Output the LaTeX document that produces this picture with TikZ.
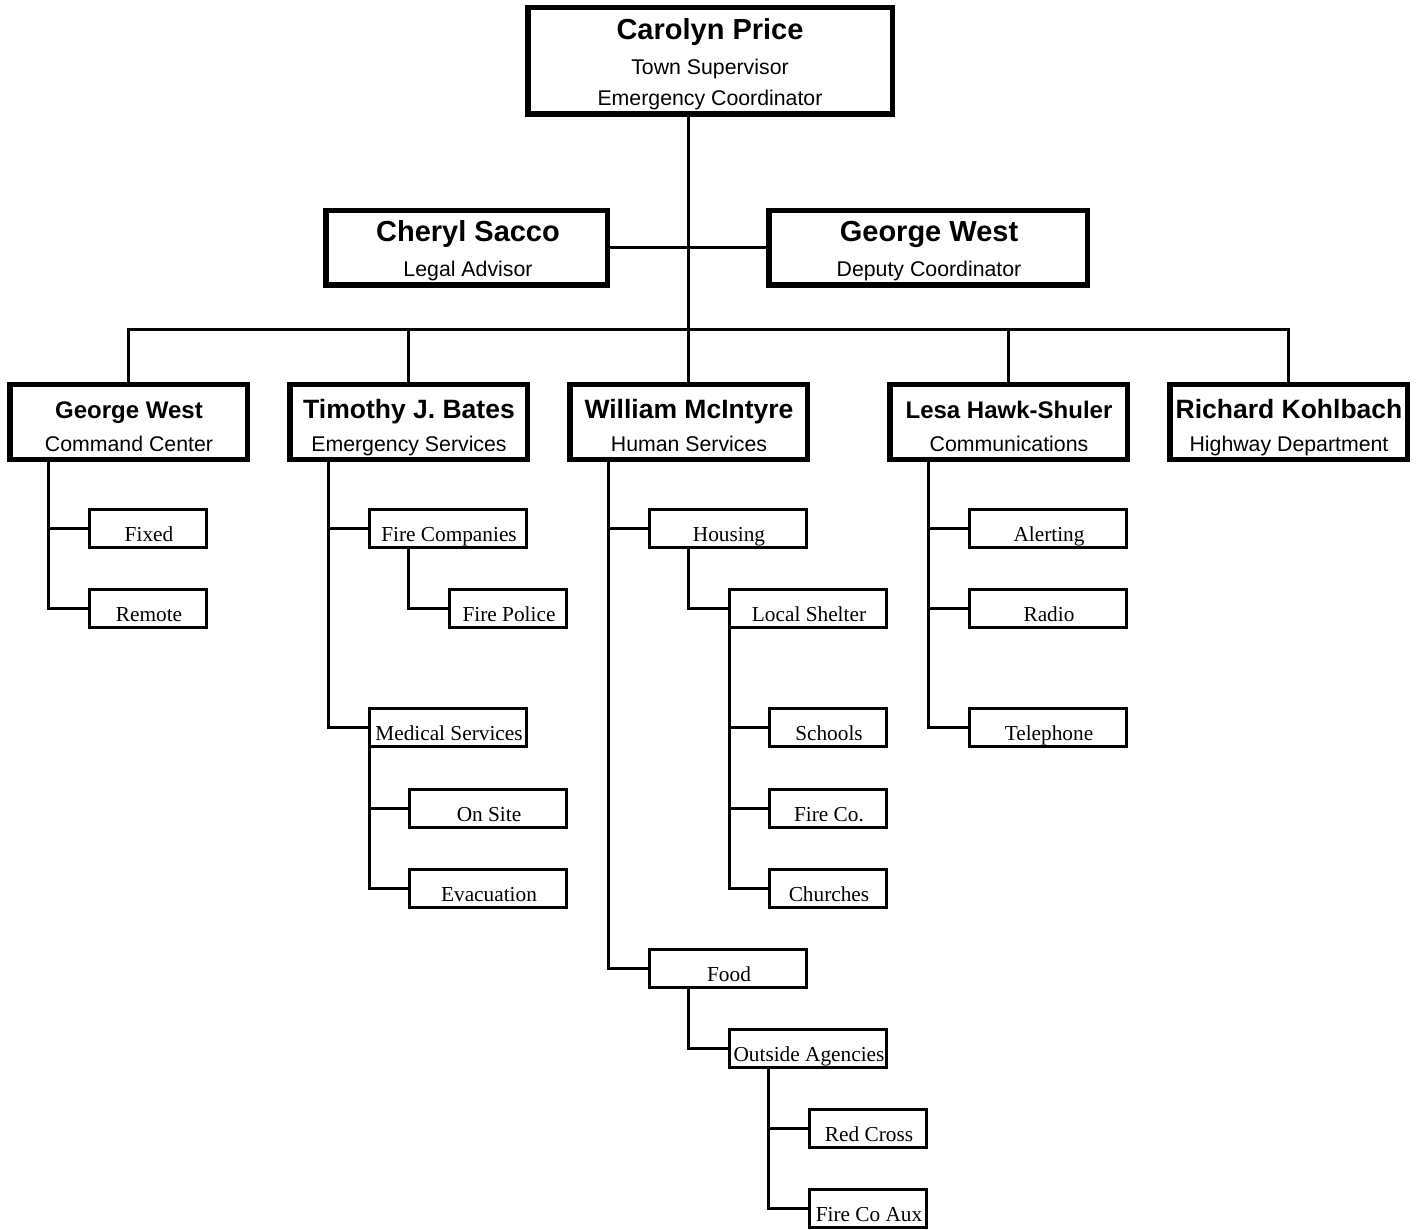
\documentclass[tikz,border=0pt]{standalone}
\usepackage{fontspec}
\setmainfont{Liberation Serif}
\setsansfont{Liberation Sans}
\tikzset{
  big/.style={draw, line width=5.5pt, inner sep=0pt, outer sep=0pt, rectangle},
  small/.style={draw, line width=3pt, inner sep=0pt, outer sep=0pt, rectangle},
  conn/.style={line width=3pt, line join=miter},
  nmA/.style={anchor=base, inner sep=0pt, font=\sffamily\bfseries\fontsize{29}{34}\selectfont},
  nmB/.style={anchor=base, inner sep=0pt, font=\sffamily\bfseries\fontsize{26.5}{31}\selectfont},
  nmC/.style={anchor=base, inner sep=0pt, font=\sffamily\bfseries\fontsize{24}{29}\selectfont},
  ttl/.style={anchor=base, inner sep=0pt, font=\sffamily\fontsize{21.3}{26}\selectfont},
  sml/.style={anchor=base, inner sep=0pt, font=\rmfamily\fontsize{21.3}{26}\selectfont},
}
% name, x1, y1, x2, y2 (outer extents, pixels)
\newcommand\bigbox[5]{\node[big, minimum width={#4-#2-5.5}, minimum height={#5-#3-5.5}] (#1) at ({(#2+#4)/2},{(#3+#5)/2}) {};}
\newcommand\smbox[6]{\node[small, minimum width={#4-#2-3}, minimum height={#5-#3-3}] (#1) at ({(#2+#4)/2},{(#3+#5)/2}) {};
  \node[sml] (#1-t) at ({(#2+#4)/2+1},{#5-8}) {#6};}
\begin{document}
\begin{tikzpicture}[x=1pt, y=-1pt]
\useasboundingbox (0,0) rectangle (1416,1230);

% top levels
\bigbox{cp}{525}{5}{895}{117}
\node[nmA] (cp-a) at (710,39.5) {Carolyn Price};
\node[ttl] (cp-b) at (710,74.5) {Town Supervisor};
\node[ttl] (cp-c) at (710,106) {Emergency Coordinator};

\bigbox{cs}{323}{208}{610}{288}
\node[nmA] (cs-a) at (468,242) {Cheryl Sacco};
\node[ttl] (cs-b) at (468,276.5) {Legal Advisor};

\bigbox{gwd}{766}{208}{1090}{288}
\node[nmA] (gwd-a) at (929,242) {George West};
\node[ttl] (gwd-b) at (929,276.5) {Deputy Coordinator};

% level 2
\bigbox{gw}{7}{382}{250}{462}
\node[nmC] (gw-a) at (129,418) {George West};
\node[ttl] (gw-b) at (129,451) {Command Center};

\bigbox{tb}{287}{382}{530}{462}
\node[nmB] (tb-a) at (409,418) {Timothy J. Bates};
\node[ttl] (tb-b) at (409,451) {Emergency Services};

\bigbox{wm}{567}{382}{810}{462}
\node[nmB] (wm-a) at (689,418) {William McIntyre};
\node[ttl] (wm-b) at (689,451) {Human Services};

\bigbox{lh}{887}{382}{1130}{462}
\node[nmC] (lh-a) at (1009,418) {Lesa Hawk-Shuler};
\node[ttl] (lh-b) at (1009,451) {Communications};

\bigbox{rk}{1167}{382}{1410}{462}
\node[nmB] (rk-a) at (1289,418) {Richard Kohlbach};
\node[ttl] (rk-b) at (1289,451) {Highway Department};

% small boxes
\smbox{fixed}{88}{508}{208}{549}{Fixed}
\smbox{remote}{88}{588}{208}{629}{Remote}

\smbox{firecomp}{368}{508}{528}{549}{Fire Companies}
\smbox{firepol}{448}{588}{568}{629}{Fire Police}
\smbox{medical}{368}{707}{528}{748}{Medical Services}
\smbox{onsite}{408}{788}{568}{829}{On Site}
\smbox{evac}{408}{868}{568}{909}{Evacuation}

\smbox{housing}{648}{508}{808}{549}{Housing}
\smbox{shelter}{728}{588}{888}{629}{Local Shelter}
\smbox{schools}{768}{707}{888}{748}{Schools}
\smbox{fireco}{768}{788}{888}{829}{Fire Co.}
\smbox{churches}{768}{868}{888}{909}{Churches}
\smbox{food}{648}{948}{808}{989}{Food}
\smbox{outside}{728}{1028}{888}{1069}{Outside Agencies}
\smbox{redcross}{808}{1108}{928}{1149}{Red Cross}
\smbox{aux}{808}{1188}{928}{1229}{Fire Co Aux}

\smbox{alerting}{968}{508}{1128}{549}{Alerting}
\smbox{radio}{968}{588}{1128}{629}{Radio}
\smbox{telephone}{968}{707}{1128}{748}{Telephone}

% connectors
\coordinate (bus) at (0,330);
\draw[conn] (cp.south -| wm.north) -- (wm.north);
\draw[conn] (cs.east) -- (gwd.west);
\draw[conn] (gw.north) -- (gw.north |- bus) -- (rk.north |- bus) -- (rk.north);
\draw[conn] (tb.north) -- (tb.north |- bus);
\draw[conn] (lh.north) -- (lh.north |- bus);

\draw[conn] ([xshift=38.25pt]gw.south west) |- (fixed.west);
\draw[conn] ([xshift=38.25pt]gw.south west) |- (remote.west);

\draw[conn] ([xshift=38.25pt]tb.south west) |- (firecomp.west);
\draw[conn] ([xshift=38.25pt]tb.south west) |- (medical.west);
\draw[conn] ([xshift=38.5pt]firecomp.south west) |- (firepol.west);
\draw[conn] (medical.south west) |- (onsite.west);
\draw[conn] (medical.south west) |- (evac.west);

\draw[conn] ([xshift=38.25pt]wm.south west) |- (housing.west);
\draw[conn] ([xshift=38.25pt]wm.south west) |- (food.west);
\draw[conn] ([xshift=38.5pt]housing.south west) |- (shelter.west);
\draw[conn] (shelter.south west) |- (schools.west);
\draw[conn] (shelter.south west) |- (fireco.west);
\draw[conn] (shelter.south west) |- (churches.west);
\draw[conn] ([xshift=38.5pt]food.south west) |- (outside.west);
\draw[conn] ([xshift=38.5pt]outside.south west) |- (redcross.west);
\draw[conn] ([xshift=38.5pt]outside.south west) |- (aux.west);

\draw[conn] ([xshift=38.25pt]lh.south west) |- (alerting.west);
\draw[conn] ([xshift=38.25pt]lh.south west) |- (radio.west);
\draw[conn] ([xshift=38.25pt]lh.south west) |- (telephone.west);
\end{tikzpicture}
\end{document}
